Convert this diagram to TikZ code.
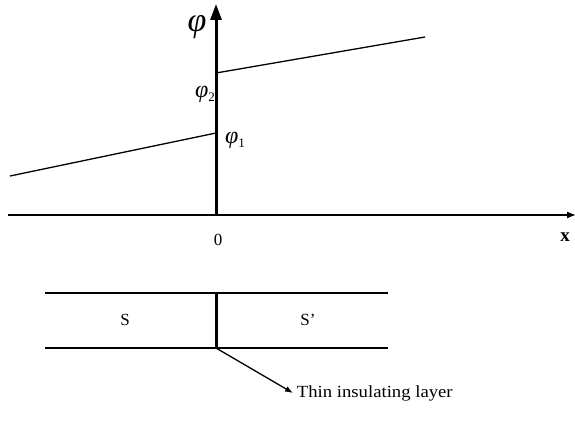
\documentclass[tikz,border=0pt]{standalone}
\usepackage{fontspec}
\setmainfont{Liberation Serif}
\usetikzlibrary{arrows.meta}
\newcommand{\phisub}[1]{{\itshape φ}\raisebox{-4pt}{\fontsize{13}{13}\selectfont #1}}
\begin{document}
\begin{tikzpicture}[x=1pt, y=-1pt, every node/.style={font=\fontsize{17}{19}\selectfont}, thinline/.style={line width=1.3pt}]
\useasboundingbox (0,0) rectangle (575,422);

\coordinate (o) at (216,215);
\coordinate (ytop) at (216,4);
\coordinate (xl) at (8,215);
\coordinate (xr) at (576,215);

\draw[thinline, -{Latex[length=9pt, width=7pt]}] (xl) -- (xr);
\draw[line width=3pt, -{Triangle[length=16pt, width=11pt]}] (o) -- (ytop);

\coordinate (a1) at (10,176);
\coordinate (a2) at (216,133);
\coordinate (b1) at (216,73);
\coordinate (b2) at (425,37);
\draw[thinline] (a1) -- (a2);
\draw[thinline] (b1) -- (b2);

\node (phi) at (197,27) {\fontsize{34}{34}\selectfont\itshape φ};
\node (phi2) at (205,94) {\fontsize{24}{24}\selectfont\phisub{2}};
\node (phi1) at (235,140) {\fontsize{24}{24}\selectfont\phisub{1}};
\node (zero) at (218,240) {0};
\node (xlab) at (565,237) {\fontsize{19}{20}\selectfont\bfseries x};

% layers
\coordinate (tl) at (45,293);
\coordinate (tr) at (388,293);
\coordinate (bl) at (45,348);
\coordinate (br) at (388,348);
\coordinate (lt) at (216,293);
\coordinate (lb) at (216,348);
\draw[thinline] (tl) -- (tr);
\draw[thinline] (bl) -- (br);
\draw[line width=3pt] (lt) -- (lb);

\node (s) at (125,320) {S};
\node (sp) at (308,320) {S'};

\node[anchor=west, xscale=1.1, transform shape] (lay) at (293,393) {Thin insulating layer};
\draw[thinline, -{Latex[length=8pt, width=6pt]}] (lb) -- (lay.west);
\end{tikzpicture}
\end{document}
